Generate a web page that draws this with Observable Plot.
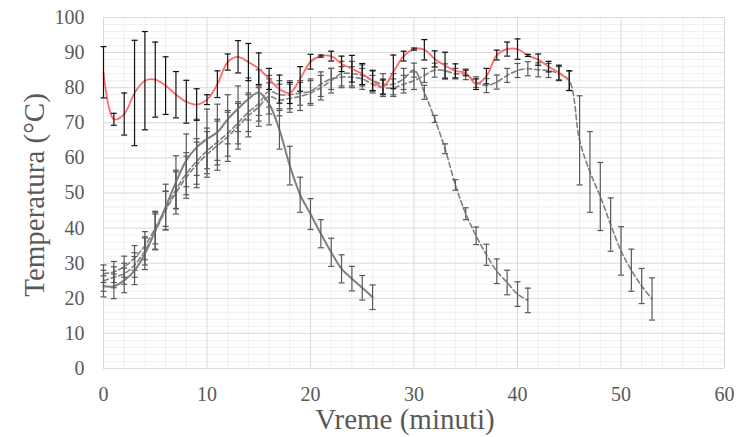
<!DOCTYPE html>
<html><head><meta charset="utf-8">
<script src="https://cdn.jsdelivr.net/npm/d3@7"></script>
<script src="https://cdn.jsdelivr.net/npm/@observablehq/plot@0.6"></script>
<style>
body{margin:0;background:#fff}
#chart svg, #chart svg text { font-family: "Liberation Serif", "Times New Roman", serif !important; }
</style>
</head><body><div id="chart"></div>
<script>
const minutes = [0,1,2,3,4,5,6,7,8,9,10,11,12,13,14,15,16,17,18,19,20,21,22,23,24,25,26,27,28,29,30,31,32,33,34,35,36,37,38,39,40,41,42,43,44,45,46,47,48,49,50,51,52,53];

const redMean = [84.4,71,72.5,78.5,82,82.3,80.6,78,76,75.2,76.6,81,87.3,88.8,87.3,85.4,82.5,79.6,78.5,82.5,87.4,89,89,86.8,85.4,83.9,82,80.2,84.5,89,91,90.8,88.2,86.3,84.8,84.2,81,83.3,89.3,91,91,89.2,88,86,84.3,82];
const redErr = [7.3,1.7,6,15,14,10.7,8.2,6.6,6.1,4.5,1.4,3.8,2.3,4.6,5.3,4.5,3,4,3,3.5,2.1,0.3,1.4,2.2,3.8,3,2.8,2,4.8,1.4,0.3,2.9,2.3,3.8,2,0.8,1.5,2.2,1.4,2,2.9,0.3,1.6,1.5,2.1,2.8];

const solidMean = [23.4,23.4,25.1,27.9,32.7,39.3,46,53.1,59.3,63,65.4,67.3,71,74,76.8,78.6,75.4,68,57.8,49.5,44,38.4,33.1,28.4,25.6,23,20.3];
const solidErr = [3,3.5,3.5,4,4.5,5.5,6.5,7.5,7.5,8,8.5,8,7,6.5,6,6.5,6,5.5,5.5,5,4.4,4,4,4,3.5,3.5,3.5];

const dash1Mean = [25,26,27,29.5,33.5,39,45,50,54.5,58,61,63.5,66,69,72,74.5,77.5,76.5,77,77.5,78.5,80,82,84,84,83.5,82,81,81,82.5,85,78.7,71.1,62.6,52.3,44.1,37.8,32.4,27.7,24.5,21.2,19.4];
const dash1Err = [3,3,3,3.5,4,5,5.5,6,6,6.5,6.5,7,7,6.5,6,5.5,5,4.5,4,4,3.5,3.5,3.5,3.5,3.5,3,3,3,3,3,2,2,1,1.4,1.5,1.7,2.5,3,3.5,3.5,3.5,3.5];

const dash2Mean = [27,27.5,29,31.5,35,40,45.5,51,55.5,59,62,64.5,67,70,73,75.5,79,78,78,78.5,79,81,82.5,83,83,82.5,81,80,80,81,82,83.5,85,84.8,84,83.8,81.6,80.6,81.6,83.5,84.9,85.4,85.1,84.9,84,82,65,56,49,41,33.5,28,23.5,19.8];
const dash2Err = [2.5,3,3,3.5,4,4.5,5,5.5,6,6.5,6.5,6.5,6.5,6,5.5,5,4.5,4,4,3.5,3.5,3.5,3,3,3,3,2.5,2.5,2.5,2.5,2.5,2,2,2,1.5,1.5,1.5,2,2,2,2,2,2,2,2,2.8,12.7,11.5,9.7,7.6,6.9,6,5,6];

const xMajor = [0,10,20,30,40,50,60];
const yMajor = [0,10,20,30,40,50,60,70,80,90,100];
const xMinor = [2,4,6,8,12,14,16,18,22,24,26,28,32,34,36,38,42,44,46,48,52,54,56,58];
const yMinor = [2,4,6,8,12,14,16,18,22,24,26,28,32,34,36,38,42,44,46,48,52,54,56,58,62,64,66,68,72,74,76,78,82,84,86,88,92,94,96,98];

const xTitle = "Vreme (minuti)";
const yTitle = "Temperatura (°C)";

function build(mean, err) {
  return mean.map((m, i) => ({x: minutes[i], y: m, lo: m - err[i], hi: m + err[i]}));
}
const red = build(redMean, redErr);
const solid = build(solidMean, solidErr);
const dash1 = build(dash1Mean, dash1Err);
const dash2 = build(dash2Mean, dash2Err);

const cap = {draw(ctx, size) { const w = Math.sqrt(size / Math.PI); ctx.moveTo(-w, 0); ctx.lineTo(w, 0); }};

function errorMarks(data, color, width) {
  return [
    Plot.ruleX(data, {x: "x", y1: "lo", y2: "hi", stroke: color, strokeWidth: width}),
    Plot.dot(data, {x: "x", y: "lo", symbol: cap, r: 3, stroke: color, strokeWidth: width, fill: "none"}),
    Plot.dot(data, {x: "x", y: "hi", symbol: cap, r: 3, stroke: color, strokeWidth: width, fill: "none"})
  ];
}

const serif = "Liberation Serif";
const gray = "#808080";
const barGray = "#595959";
const redColor = "#ff6b6b";

const chart = Plot.plot({
  width: 740,
  height: 437,
  marginLeft: 103,
  marginRight: 16,
  marginTop: 17,
  marginBottom: 69,
  style: {background: "#fff", color: "#595959"},
  x: {domain: [0, 60], axis: null},
  y: {domain: [0, 100], axis: null},
  marks: [
    Plot.ruleX(xMinor, {stroke: "#f0f0f0", strokeWidth: 1}),
    Plot.ruleY(yMinor, {stroke: "#f0f0f0", strokeWidth: 1}),
    Plot.ruleX(xMajor, {stroke: "#d9d9d9", strokeWidth: 1}),
    Plot.ruleY(yMajor, {stroke: "#d9d9d9", strokeWidth: 1}),
    Plot.axisX({ticks: xMajor, tickSize: 0, tickPadding: 18, fontSize: 20, fontFamily: serif, fill: "#595959", label: null}),
    Plot.axisY({ticks: yMajor, tickSize: 0, tickPadding: 19, fontSize: 20, fontFamily: serif, fill: "#595959", label: null}),
    Plot.text([xTitle], {frameAnchor: "bottom", dx: -9, dy: 60, lineAnchor: "bottom", textAnchor: "middle", fontSize: 29, fontFamily: serif, fill: "#595959", text: d => d}),
    Plot.text([yTitle], {frameAnchor: "left", dx: -60, dy: 2, rotate: -90, lineAnchor: "bottom", textAnchor: "middle", fontSize: 29, fontFamily: serif, fill: "#595959", text: d => d}),
    Plot.line(dash2, {x: "x", y: "y", stroke: gray, strokeWidth: 1.6, strokeDasharray: "5,3", curve: "catmull-rom"}),
    ...errorMarks(dash2, barGray, 1.2),
    Plot.line(dash1, {x: "x", y: "y", stroke: gray, strokeWidth: 1.6, strokeDasharray: "5,3", curve: "catmull-rom"}),
    ...errorMarks(dash1, barGray, 1.2),
    Plot.line(solid, {x: "x", y: "y", stroke: gray, strokeWidth: 2, curve: "catmull-rom"}),
    ...errorMarks(solid, barGray, 1.2),
    Plot.line(red, {x: "x", y: "y", stroke: redColor, strokeWidth: 1.8, curve: "catmull-rom"}),
    ...errorMarks(red, "#111", 1.2)
  ]
});
document.getElementById("chart").appendChild(chart);
</script>
</body></html>
